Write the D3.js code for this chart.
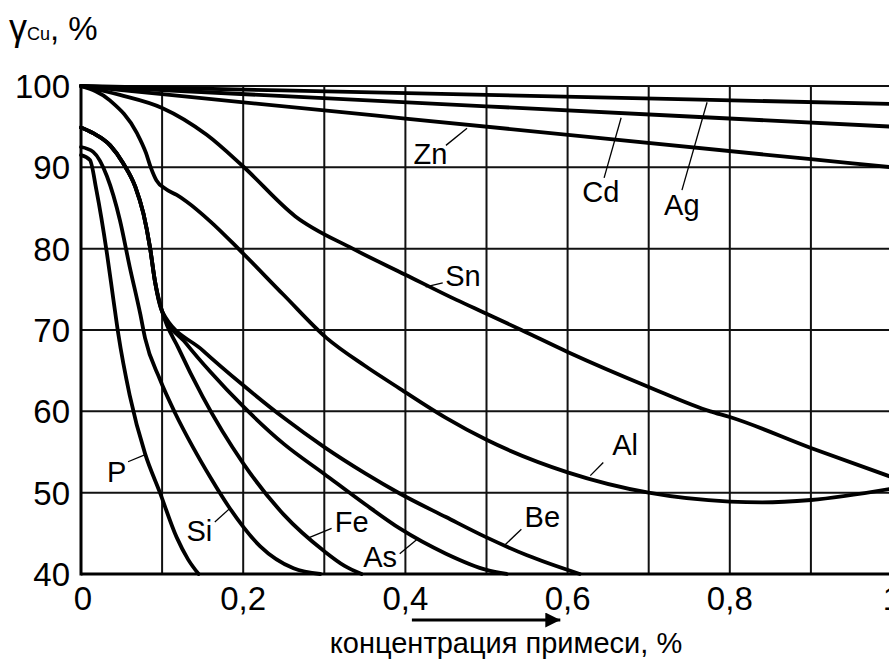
<!DOCTYPE html>
<html>
<head>
<meta charset="utf-8">
<script src="https://cdn.jsdelivr.net/npm/d3@7"></script>
<style>
  html, body { margin: 0; padding: 0; background: #fff; }
  svg { display: block; font-family: "Liberation Sans", Arial, sans-serif; }
</style>
</head>
<body>
<svg id="chart" width="889" height="660"></svg>
<script>
// conductivity of copper vs impurity content
const xTicks      = [0, 0.2, 0.4, 0.6, 0.8, 1];
const xTickLabels = ['0', '0,2', '0,4', '0,6', '0,8', '1'];
const yTicks      = [40, 50, 60, 70, 80, 90, 100];

// [concentration %, gamma %]
const ag = [[0,100],[0.5,98.9],[1,97.8]];
const cd = [[0,100],[0.5,97.5],[1,95]];
const zn = [[0,100],[0.1,99],[0.4,96],[0.9,91],[1,90]];
const sn = [[0,100],[0.048,98.9],[0.1,97.3],[0.155,94],[0.2,90.1],[0.264,84],[0.335,80],
            [0.4,76.8],[0.463,73.7],[0.5,72],[0.543,70],[0.6,67.3],[0.7,63],[0.776,60],
            [0.8,59.3],[0.9,55.5],[1,51.9]];
const al = [[0,100],[0.036,98.2],[0.069,94.2],[0.08,91.8],[0.086,90],[0.093,88.4],[0.105,87.3],
            [0.118,86.6],[0.13,85.8],[0.16,83.3],[0.196,79.8],[0.25,74.3],[0.303,69],[0.35,65.6],
            [0.393,62.8],[0.45,59.2],[0.5,56.5],[0.6,52.5],[0.7,50],[0.8,48.9],[0.84,48.8],
            [0.9,49.1],[1,50.5]];
// Fe, As, Be share the same run up to 0.1 %
const feAsBeStart = [[0,94.9],[0.015,94.2],[0.036,92.7],[0.052,90.5],[0.067,87.6],[0.077,84.3],
                     [0.085,80.2],[0.091,76.1],[0.1,72.3]];
const be = feAsBeStart.concat([[0.15,67.5],[0.2,63.2],[0.25,59.2],[0.3,55.6],[0.35,52.4],
            [0.393,49.9],[0.45,47],[0.5,44.5],[0.55,42.3],[0.615,40]]);
const as = feAsBeStart.concat([[0.13,68.3],[0.16,64.8],[0.2,60.6],[0.25,56],[0.3,52.3],
            [0.35,48.6],[0.393,45.6],[0.45,42.5],[0.5,40.5],[0.525,40]]);
const fe = feAsBeStart.concat([[0.12,67.8],[0.15,61.8],[0.2,53.6],[0.25,47.3],[0.3,42.8],
            [0.325,41],[0.346,40]]);
const si = [[0,92.5],[0.015,91.9],[0.032,88.9],[0.048,83.5],[0.06,77.8],[0.073,72],[0.079,69],
            [0.097,64],[0.116,59.8],[0.138,55.6],[0.16,51.8],[0.182,48.3],[0.221,43.4],
            [0.262,40.7],[0.295,40]];
const p  = [[0,91.5],[0.011,90.9],[0.019,87.2],[0.032,79.4],[0.04,73.7],[0.046,69.5],[0.06,62],
            [0.079,54.8],[0.097,50.1],[0.118,44.5],[0.132,41.8],[0.145,40]];

const series = [ag, cd, zn, sn, al, be, as, fe, si, p];

// label text anchor + leader line, in data units
const notes = [
  { t:'Zn', at:[0.410,90.4], from:[0.450,92.7], to:[0.476,94.8] },
  { t:'Cd', at:[0.618,85.7], from:[0.645,88.7], to:[0.666,96.1] },
  { t:'Ag', at:[0.719,84.1], from:[0.741,87.2], to:[0.772,98.0] },
  { t:'Sn', at:[0.449,75.4], from:[0.446,75.8], to:[0.425,75.3] },
  { t:'Al', at:[0.655,54.6], from:[0.644,53.7], to:[0.628,52.1] },
  { t:'Be', at:[0.547,45.8], from:[0.543,45.5], to:[0.523,43.6] },
  { t:'As', at:[0.348,40.9], from:[0.393,42.5], to:[0.416,44.4] },
  { t:'Fe', at:[0.313,45.2], from:[0.309,45.6], to:[0.282,44.5] },
  { t:'Si', at:[0.130,44.0], from:[0.165,46.4], to:[0.184,48.1] },
  { t:'P',  at:[0.032,51.3], from:[0.058,53.8], to:[0.080,54.7] }
];

const svg = d3.select('#chart');

const x = d3.scaleLinear().domain([0, 1]).range([81, 892]);
const y = d3.scaleLinear().domain([40, 100]).range([574, 86]);

// ---------- grid ----------
const grid = svg.append('g').attr('stroke', '#111').attr('stroke-width', 2);
grid.selectAll('line.v')
  .data(d3.range(1, 10).map(i => i / 10))
  .join('line')
    .attr('x1', d => x(d)).attr('x2', d => x(d))
    .attr('y1', y(100)).attr('y2', y(40));
grid.selectAll('line.h')
  .data(yTicks.slice(1))
  .join('line')
    .attr('x1', x(0)).attr('x2', x(1))
    .attr('y1', d => y(d)).attr('y2', d => y(d));

// ---------- axes ----------
svg.append('line')
  .attr('x1', x(0)).attr('x2', x(0)).attr('y1', y(100) - 1).attr('y2', y(40) + 1.5)
  .attr('stroke', '#000').attr('stroke-width', 3);
svg.append('line')
  .attr('x1', x(0)).attr('x2', x(1)).attr('y1', y(40)).attr('y2', y(40))
  .attr('stroke', '#000').attr('stroke-width', 3);

svg.append('g')
  .selectAll('text')
  .data(yTicks)
  .join('text')
    .attr('x', 70)
    .attr('y', d => y(d))
    .attr('dy', '0.36em')
    .attr('text-anchor', 'end')
    .attr('font-size', 33)
    .text(d => d);

svg.append('g')
  .selectAll('text')
  .data(xTicks)
  .join('text')
    .attr('x', (d, i) => x(d) + (i === 0 ? 2 : 0))
    .attr('y', 610)
    .attr('text-anchor', 'middle')
    .attr('font-size', 33)
    .text((d, i) => xTickLabels[i]);

// ---------- curves ----------
const line = d3.line()
  .x(d => x(d[0]))
  .y(d => y(d[1]))
  .curve(d3.curveMonotoneX);

svg.append('g')
  .selectAll('path')
  .data(series)
  .join('path')
    .attr('d', line)
    .attr('fill', 'none')
    .attr('stroke', '#000')
    .attr('stroke-width', 3.8)
    .attr('stroke-linejoin', 'round')
    .attr('stroke-linecap', 'round');

// ---------- labels ----------
const lbl = svg.append('g');
lbl.selectAll('line')
  .data(notes)
  .join('line')
    .attr('x1', d => x(d.from[0])).attr('y1', d => y(d.from[1]))
    .attr('x2', d => x(d.to[0])).attr('y2', d => y(d.to[1]))
    .attr('stroke', '#000').attr('stroke-width', 1.3);
lbl.selectAll('text')
  .data(notes)
  .join('text')
    .attr('x', d => x(d.at[0]))
    .attr('y', d => y(d.at[1]))
    .attr('font-size', 29)
    .text(d => d.t);

// ---------- titles ----------
const title = svg.append('text').attr('x', 9).attr('y', 40);
title.append('tspan').attr('font-size', 36).text('γ');
title.append('tspan').attr('font-size', 18).text('Cu');
title.append('tspan').attr('font-size', 33).text(', %');

svg.append('text')
  .attr('x', 506)
  .attr('y', 653)
  .attr('text-anchor', 'middle')
  .attr('font-size', 29)
  .text('концентрация примеси, %');

// direction arrow under the axis
svg.append('defs').append('marker')
  .attr('id', 'arr')
  .attr('viewBox', '0 0 10 10')
  .attr('refX', 10).attr('refY', 5)
  .attr('markerWidth', 5.5).attr('markerHeight', 5)
  .attr('orient', 'auto')
  .attr('markerUnits', 'strokeWidth')
  .append('path').attr('d', 'M0,0L10,5L0,10Z').attr('fill', '#000');
svg.append('line')
  .attr('x1', x(0.408)).attr('x2', x(0.591))
  .attr('y1', 620).attr('y2', 620)
  .attr('stroke', '#000').attr('stroke-width', 3)
  .attr('marker-end', 'url(#arr)');
</script>
</body>
</html>
